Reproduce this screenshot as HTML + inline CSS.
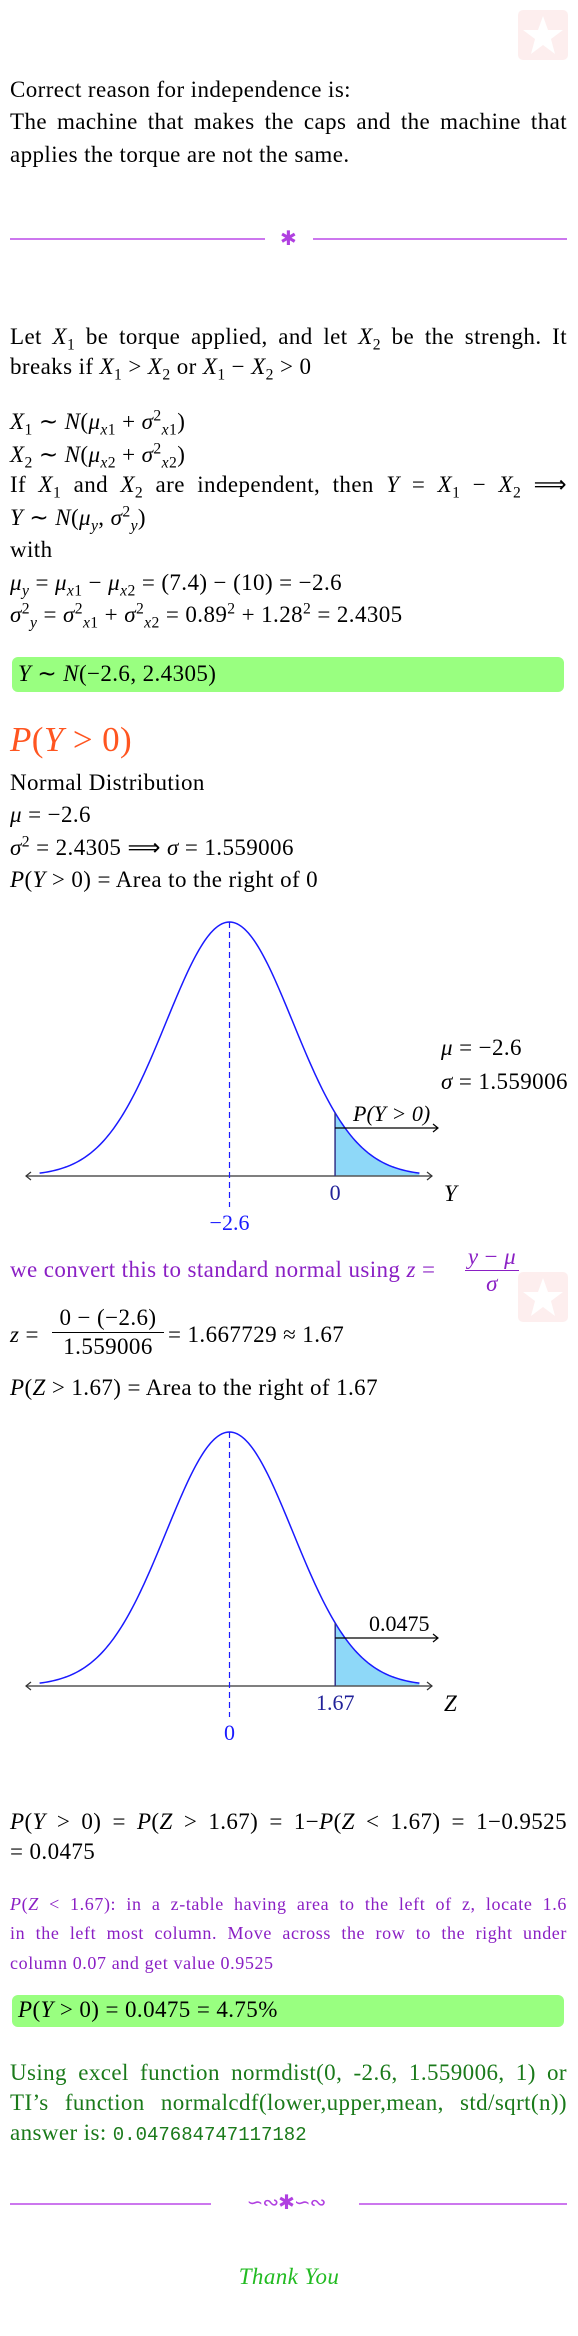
<!DOCTYPE html>
<html><head><meta charset="utf-8">
<style>
html,body{margin:0;padding:0;background:#fff;}
#page{position:relative;width:578px;height:2336px;overflow:hidden;font-family:"Liberation Serif",serif;font-size:23px;letter-spacing:0.4px;color:#000;}
.ln{position:absolute;left:10px;height:28px;line-height:28px;white-space:nowrap;}
.j{width:557px;text-align:justify;text-align-last:justify;}
i{font-style:italic;}
sub,sup{font-size:0.68em;line-height:0;}
.box{position:absolute;left:12px;width:552px;background:#99ff80;border-radius:6px;}
.purple{color:#8a1fc4;}
.green{color:#1a7a1a;}
.hr{position:absolute;height:2px;background:#cc77ee;}
.wm{position:absolute;width:50px;height:50px;background:#fdeeee;border-radius:5px;}
svg{position:absolute;left:0;letter-spacing:0;}
</style></head>
<body>
<div id="page">
<div class="wm" style="left:518px;top:10px"><svg width="50" height="50" style="position:static"><polygon points="25,6 30,20 45,20 33,29 37,44 25,35 13,44 17,29 5,20 20,20" fill="#fff"/></svg></div>

<div class="ln" style="top:76px">Correct reason for independence is:</div>
<div class="ln j" style="top:108px">The machine that makes the caps and the machine that</div>
<div class="ln" style="top:141px">applies the torque are not the same.</div>

<div class="hr" style="left:10px;width:255px;top:238px"></div>
<div style="position:absolute;left:280px;top:226px;color:#b040e0;font-size:20px">✱</div>
<div class="hr" style="left:313px;width:254px;top:238px"></div>

<div class="ln j" style="top:323px">Let <i>X</i><sub>1</sub> be torque applied, and let <i>X</i><sub>2</sub> be the strengh. It</div>
<div class="ln" style="top:353px">breaks if <i>X</i><sub>1</sub> &gt; <i>X</i><sub>2</sub> or <i>X</i><sub>1</sub> − <i>X</i><sub>2</sub> &gt; 0</div>
<div class="ln" style="top:408px"><i>X</i><sub>1</sub> ∼ <i>N</i>(<i>μ</i><sub><i>x</i>1</sub> + <i>σ</i><sup>2</sup><sub><i>x</i>1</sub>)</div>
<div class="ln" style="top:441px"><i>X</i><sub>2</sub> ∼ <i>N</i>(<i>μ</i><sub><i>x</i>2</sub> + <i>σ</i><sup>2</sup><sub><i>x</i>2</sub>)</div>
<div class="ln j" style="top:471px">If <i>X</i><sub>1</sub> and <i>X</i><sub>2</sub> are independent, then <i>Y</i> = <i>X</i><sub>1</sub> − <i>X</i><sub>2</sub> ⟹</div>
<div class="ln" style="top:504px"><i>Y</i> ∼ <i>N</i>(<i>μ</i><sub><i>y</i></sub>, <i>σ</i><sup>2</sup><sub><i>y</i></sub>)</div>
<div class="ln" style="top:536px">with</div>
<div class="ln" style="top:569px"><i>μ</i><sub><i>y</i></sub> = <i>μ</i><sub><i>x</i>1</sub> − <i>μ</i><sub><i>x</i>2</sub> = (7.4) − (10) = −2.6</div>
<div class="ln" style="top:601px"><i>σ</i><sup>2</sup><sub><i>y</i></sub> = <i>σ</i><sup>2</sup><sub><i>x</i>1</sub> + <i>σ</i><sup>2</sup><sub><i>x</i>2</sub> = 0.89<sup>2</sup> + 1.28<sup>2</sup> = 2.4305</div>

<div class="box" style="top:657px;height:35px"></div>
<div class="ln" style="top:660px;left:18px"><i>Y</i> ∼ <i>N</i>(−2.6, 2.4305)</div>

<div class="ln" style="top:720px;height:40px;line-height:40px;font-size:35px;color:#ff5520"><i>P</i>(<i>Y</i> &gt; 0)</div>

<div class="ln" style="top:769px">Normal Distribution</div>
<div class="ln" style="top:801px"><i>μ</i> = −2.6</div>
<div class="ln" style="top:834px"><i>σ</i><sup>2</sup> = 2.4305 ⟹ <i>σ</i> = 1.559006</div>
<div class="ln" style="top:866px"><i>P</i>(<i>Y</i> &gt; 0) = Area to the right of 0</div>

<svg id="chart1" width="578" height="330" style="top:900px"></svg>
<div class="ln" style="top:1034px;left:441px"><i>μ</i> = −2.6</div>
<div class="ln" style="top:1068px;left:441px"><i>σ</i> = 1.559006</div>

<div class="ln purple" style="top:1256px">we convert this to standard normal using <i>z</i> =</div>
<div style="position:absolute;left:465px;top:1244px;width:54px;text-align:center;color:#8a1fc4;line-height:26px"><div style="border-bottom:1px solid #8a1fc4"><i>y</i> − <i>μ</i></div><div><i>σ</i></div></div>
<div class="wm" style="left:518px;top:1272px"><svg width="50" height="50" style="position:static"><polygon points="25,6 30,20 45,20 33,29 37,44 25,35 13,44 17,29 5,20 20,20" fill="#fff"/></svg></div>

<div class="ln" style="top:1321px"><i>z</i> =</div>
<div style="position:absolute;left:52px;top:1304px;width:112px;text-align:center;line-height:28px"><div style="border-bottom:1px solid #000">0 − (−2.6)</div><div>1.559006</div></div>
<div class="ln" style="top:1321px;left:168px">= 1.667729 ≈ 1.67</div>
<div class="ln" style="top:1374px"><i>P</i>(<i>Z</i> &gt; 1.67) = Area to the right of 1.67</div>

<svg id="chart2" width="578" height="330" style="top:1410px"></svg>

<div class="ln j" style="top:1808px"><i>P</i>(<i>Y</i> &gt; 0) = <i>P</i>(<i>Z</i> &gt; 1.67) = 1−<i>P</i>(<i>Z</i> &lt; 1.67) = 1−0.9525</div>
<div class="ln" style="top:1838px">= 0.0475</div>

<div class="ln j purple" style="top:1890px;font-size:18px;letter-spacing:0.6px"><i>P</i>(<i>Z</i> &lt; 1.67): in a z-table having area to the left of z, locate 1.6</div>
<div class="ln j purple" style="top:1919px;font-size:18px;letter-spacing:0.6px">in the left most column. Move across the row to the right under</div>
<div class="ln purple" style="top:1949px;font-size:18px;letter-spacing:0.6px">column 0.07 and get value 0.9525</div>

<div class="box" style="top:1995px;height:32px"></div>
<div class="ln" style="top:1996px;left:18px"><i>P</i>(<i>Y</i> &gt; 0) = 0.0475 = 4.75%</div>

<div class="ln j green" style="top:2059px">Using excel function normdist(0, -2.6, 1.559006, 1) or</div>
<div class="ln j green" style="top:2089px">TI’s function normalcdf(lower,upper,mean, std/sqrt(n))</div>
<div class="ln green" style="top:2119px">answer is: <span style="font-family:'Liberation Mono',monospace;font-size:19px;letter-spacing:0">0.047684747117182</span></div>

<div class="hr" style="left:10px;width:201px;top:2203px"></div>
<div style="position:absolute;left:236px;top:2190px;width:100px;text-align:center;color:#b040e0;font-size:20px;letter-spacing:-1px">∽∾✱∽∾</div>
<div class="hr" style="left:359px;width:208px;top:2203px"></div>

<div class="ln" style="top:2263px;left:0;width:578px;text-align:center;color:#22bb22;font-style:italic">Thank You</div>
</div>

<script>
// Chart 1: Y ~ N(-2.6, 1.559006)
const c1Mean = [-2.6];
const c1Sd = [1.559006];
const c1Cut = [0];
const c1TickLabels = ["−2.6", "0"];
const c1AreaLabel = ["P(Y > 0)"];
// Chart 2: Z ~ N(0,1)
const c2Mean = [0];
const c2Sd = [1];
const c2Cut = [1.67];
const c2TickLabels = ["0", "1.67"];
const c2AreaLabel = ["0.0475"];

const NS = "http://www.w3.org/2000/svg";
function mk(svg, tag, attrs){ const e=document.createElementNS(NS,tag); for(const k in attrs) e.setAttribute(k,attrs[k]); svg.appendChild(e); return e; }

function drawChart(id, mean, sd, cut, ticks, areaLabel, axisName, areaItalic){
  const svg=document.getElementById(id);
  const cx=229.5, sdPx=63.3, baseY=276, peakH=254;
  const xS=v=>cx+(v-mean)/sd*sdPx;
  const pdf=v=>Math.exp(-0.5*((v-mean)/sd)**2);
  const yS=v=>baseY-pdf(v)*peakH;
  const lo=mean-3*sd, hi=mean+3*sd;
  let fp=`M${xS(cut)},${baseY}`;
  for(let i=0;i<=60;i++){const v=cut+(hi-cut)*i/60; fp+=` L${xS(v).toFixed(2)},${yS(v).toFixed(2)}`;}
  fp+=` L${xS(hi)},${baseY} Z`;
  const area=mk(svg,"path",{d:fp,fill:"#8ed8f8"});
  
  
  const ax=mk(svg,"line",{x1:26,y1:baseY,x2:432,y2:baseY,stroke:"#555","stroke-width":1.5});
  
  
  mk(svg,"path",{d:`M31,${baseY-4} L26,${baseY} L31,${baseY+4} M427,${baseY-4} L432,${baseY} L427,${baseY+4}`,stroke:"#333",fill:"none","stroke-width":1.2});
  let cp="";
  for(let i=0;i<=200;i++){const v=lo+(hi-lo)*i/200; cp+=(i?" L":"M")+xS(v).toFixed(2)+","+yS(v).toFixed(2);}
  const curve=mk(svg,"path",{d:cp,fill:"none",stroke:"#1a1aff","stroke-width":1.5});
  
  
  const ml=mk(svg,"line",{x1:xS(mean),y1:yS(mean),x2:xS(mean),y2:baseY+31,stroke:"#1a1aff","stroke-width":1.2,"stroke-dasharray":"6,4"});
  
  
  const cl=mk(svg,"line",{x1:xS(cut),y1:yS(cut),x2:xS(cut),y2:baseY,stroke:"#333388","stroke-width":1.5});
  
  
  const ay=baseY-48;
  mk(svg,"path",{d:`M${xS(cut)},${ay} L438,${ay} M433,${ay-4} L438,${ay} L433,${ay+4}`,stroke:"#000",fill:"none","stroke-width":1.2});
  const al=mk(svg,"text",{x:areaItalic?353:369,y:ay-7,"font-family":"Liberation Serif, serif","font-size":22});
  
  
  al.textContent=areaLabel[0];
  if(areaItalic) al.setAttribute('font-style','italic');
  const t1=mk(svg,"text",{x:xS(mean),y:baseY+54,"text-anchor":"middle",fill:"#1a1aff","font-family":"Liberation Serif, serif","font-size":22});
  
  
  t1.textContent=ticks[0];
  const t2=mk(svg,"text",{x:xS(cut),y:baseY+24,"text-anchor":"middle",fill:"#222299","font-family":"Liberation Serif, serif","font-size":22});
  
  
  t2.textContent=ticks[1];
  const an=mk(svg,"text",{x:444,y:baseY+25,"font-family":"Liberation Serif, serif","font-size":23,"font-style":"italic"});
  
  
  an.textContent=axisName;
}
drawChart("chart1", c1Mean[0], c1Sd[0], c1Cut[0], c1TickLabels, c1AreaLabel, "Y", true);
drawChart("chart2", c2Mean[0], c2Sd[0], c2Cut[0], c2TickLabels, c2AreaLabel, "Z", false);
</script>
</body></html>
